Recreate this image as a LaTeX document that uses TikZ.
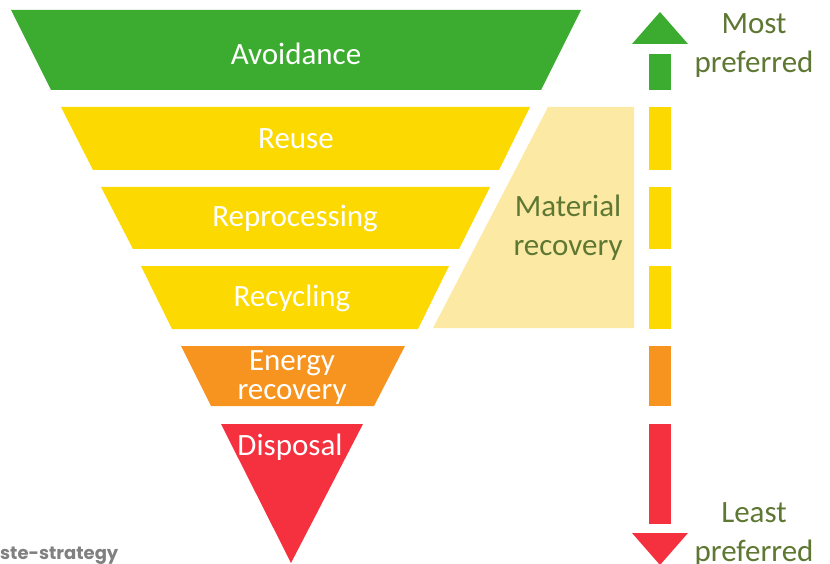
\documentclass[tikz,border=0pt]{standalone}
\usepackage{fontspec}
\setmainfont{Carlito}
\newfontfamily\popfont{Poppins}
\definecolor{cgreen}{HTML}{3BAC2F}
\definecolor{cyellow}{HTML}{FCD900}
\definecolor{corange}{HTML}{F7941F}
\definecolor{cred}{HTML}{F5313F}
\definecolor{cpale}{HTML}{FCEAA4}
\definecolor{colive}{HTML}{5E7732}
\definecolor{cgrey}{HTML}{808080}
\begin{document}
\begin{tikzpicture}[x=1pt,y=-1pt,
  bandtext/.style={text=white,font=\fontsize{31}{29}\selectfont,align=center,inner sep=0pt},
  sidetext/.style={text=colive,font=\fontsize{31}{39}\selectfont,align=center,inner sep=0pt}]
\useasboundingbox (0,0) rectangle (830,564);
% pyramid bands
\fill[cgreen] (11,10) -- (581,10) -- (541,90) -- (51,90) -- cycle;
\fill[cyellow] (61,107) -- (530,107) -- (499,170) -- (93,170) -- cycle;
\fill[cyellow] (101,187) -- (490,187) -- (459,249) -- (133,249) -- cycle;
\fill[cyellow] (141,266) -- (449,266) -- (418,329) -- (172,329) -- cycle;
\fill[corange] (181,346) -- (405,346) -- (374,406) -- (211,406) -- cycle;
\fill[cred] (221,424) -- (363,424) -- (291,563) -- cycle;
% material recovery box
\fill[cpale] (548,107) -- (634,107) -- (634,328) -- (433,328) -- cycle;
% labels
\node[bandtext] (avo) at (296,54) {Avoidance};
\node[bandtext] (reu) at (296,139) {Reuse};
\node[bandtext] (rep) at (295,219) {Reprocessing};
\node[bandtext] (rec) at (292,298) {Recycling};
\node[bandtext] (ene) at (292,378) {Energy\\recovery};
\node[bandtext] (dis) at (290,447) {Disposal};
\node[sidetext] (mat) at (568,228) {Material\\recovery};
% preference arrow
\fill[cgreen] (660,12) -- (688,44) -- (632,44) -- cycle;
\fill[cgreen] (649,54) rectangle (671,90);
\fill[cyellow] (649,107) rectangle (671,170);
\fill[cyellow] (649,187) rectangle (671,249);
\fill[cyellow] (649,266) rectangle (671,329);
\fill[corange] (649,346) rectangle (671,406);
\fill[cred] (649,424) rectangle (671,524);
\fill[cred] (632,533) -- (688,533) -- (660,565) -- cycle;
\node[sidetext] (most) at (754,46) {Most\\preferred};
\node[sidetext] (least) at (754,535) {Least\\preferred};
% source
\node[anchor=base west,inner sep=0pt,text=cgrey,font=\popfont\bfseries\fontsize{18}{20}\selectfont] (src) at (0,559) {ste-strategy};
\end{tikzpicture}
\end{document}
